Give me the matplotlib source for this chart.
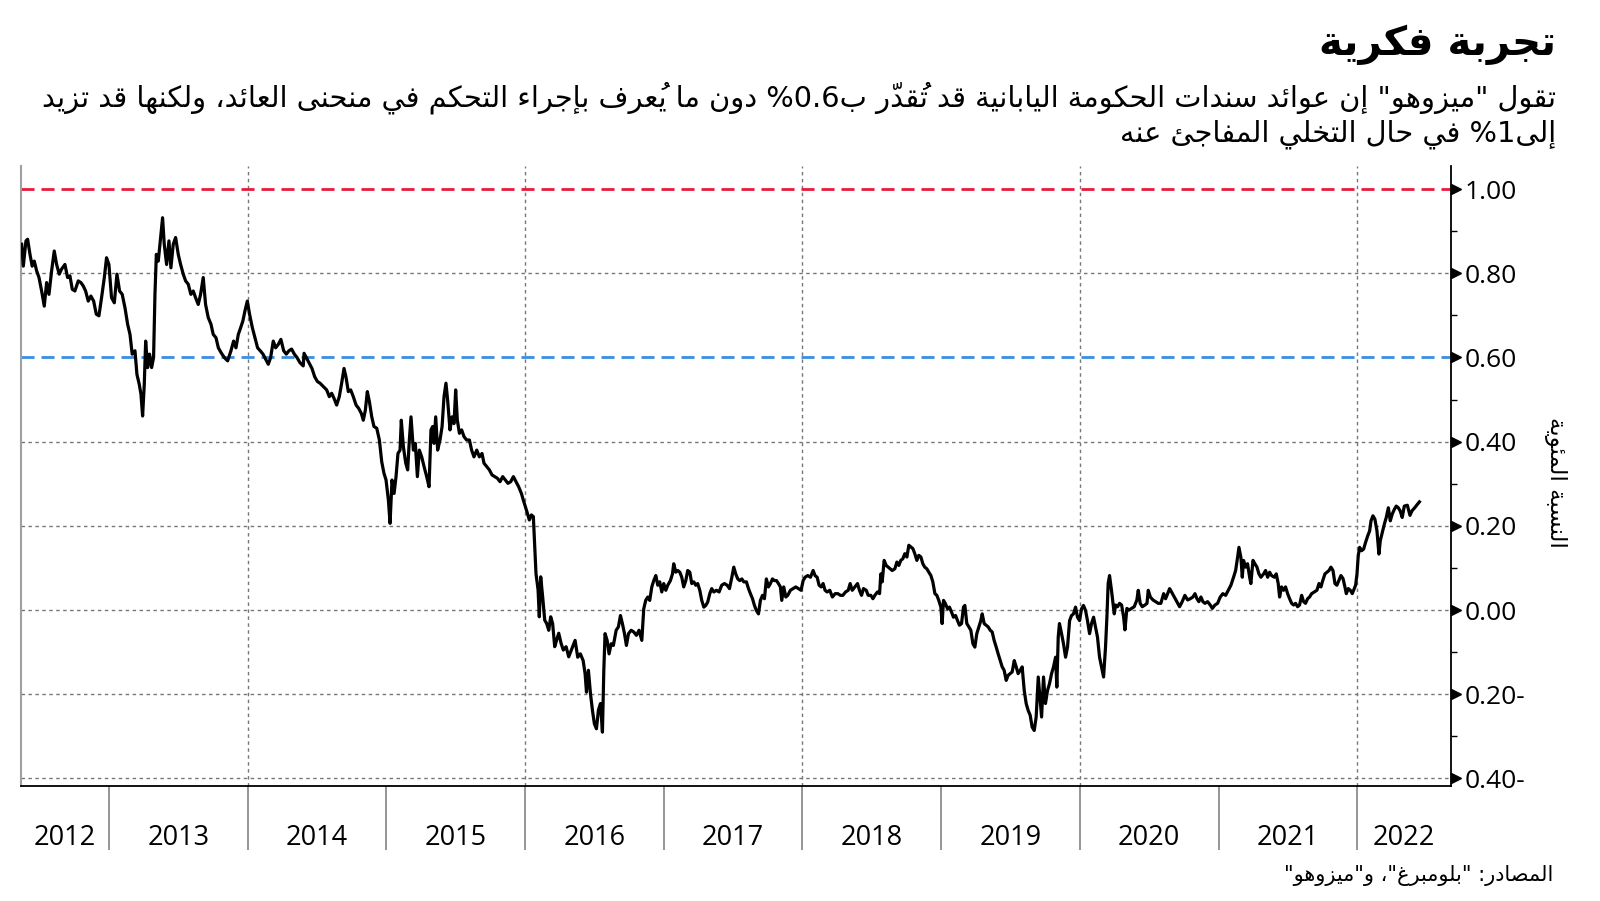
import matplotlib.pyplot as plt
from matplotlib.transforms import offset_copy, blended_transform_factory

# ---------------- data ----------------
years = [
    # 2012 - mid 2014
    2012.371, 2012.383, 2012.402, 2012.414, 2012.431, 2012.447, 2012.462, 2012.479, 2012.496, 2012.515,
    2012.534, 2012.551, 2012.568, 2012.587, 2012.606, 2012.623, 2012.642, 2012.659, 2012.683, 2012.702,
    2012.719, 2012.736, 2012.755, 2012.779, 2012.798, 2012.815, 2012.832, 2012.851, 2012.870, 2012.890,
    2012.909, 2012.928, 2012.947, 2012.967, 2012.983, 2013.000, 2013.019, 2013.039, 2013.058, 2013.077,
    2013.096, 2013.116, 2013.135, 2013.152, 2013.168, 2013.188, 2013.202, 2013.219, 2013.231, 2013.243,
    2013.255, 2013.265, 2013.279, 2013.293, 2013.308, 2013.322, 2013.332, 2013.342, 2013.356, 2013.373,
    2013.387, 2013.399, 2013.416, 2013.433, 2013.447, 2013.464, 2013.481, 2013.500, 2013.517, 2013.536,
    2013.553, 2013.572, 2013.591, 2013.608, 2013.625, 2013.644, 2013.661, 2013.680, 2013.697, 2013.716,
    2013.736, 2013.752, 2013.772, 2013.789, 2013.808, 2013.832, 2013.856, 2013.880, 2013.899, 2013.916,
    2013.933, 2013.950, 2013.966, 2013.981, 2013.998, 2014.014, 2014.034, 2014.053, 2014.072, 2014.091,
    2014.111, 2014.130, 2014.149, 2014.166, 2014.185, 2014.202, 2014.221, 2014.240, 2014.260, 2014.279,
    2014.298, 2014.317, 2014.337, 2014.356, 2014.377, 2014.401,
    # mid 2014 - mid 2016
    2014.407, 2014.426, 2014.445, 2014.464, 2014.484, 2014.503, 2014.522, 2014.546, 2014.570, 2014.589,
    2014.606, 2014.623, 2014.642, 2014.661, 2014.678, 2014.695, 2014.709, 2014.726, 2014.743, 2014.762,
    2014.782, 2014.801, 2014.820, 2014.834, 2014.849, 2014.863, 2014.878, 2014.895, 2014.911, 2014.931,
    2014.950, 2014.967, 2014.983, 2014.998, 2015.015, 2015.027, 2015.041, 2015.056, 2015.070, 2015.084,
    2015.099, 2015.108, 2015.123, 2015.140, 2015.154, 2015.166, 2015.178, 2015.195, 2015.209, 2015.224,
    2015.238, 2015.255, 2015.272, 2015.291, 2015.308, 2015.322, 2015.334, 2015.344, 2015.356, 2015.370,
    2015.387, 2015.402, 2015.416, 2015.430, 2015.442, 2015.459, 2015.474, 2015.488, 2015.500, 2015.512,
    2015.527, 2015.543, 2015.560, 2015.579, 2015.599, 2015.615, 2015.632, 2015.652, 2015.671, 2015.690,
    2015.704, 2015.724, 2015.743, 2015.762, 2015.781, 2015.801, 2015.820, 2015.839, 2015.858, 2015.877,
    2015.897, 2015.916, 2015.935, 2015.954, 2015.974, 2015.988, 2016.002, 2016.017, 2016.031, 2016.046,
    2016.060, 2016.070, 2016.079, 2016.094, 2016.103, 2016.113, 2016.127, 2016.142, 2016.156, 2016.171,
    2016.185, 2016.199, 2016.214, 2016.228, 2016.243, 2016.260, 2016.276, 2016.296, 2016.315, 2016.334,
    # mid 2016 - early 2018
    2016.342, 2016.361, 2016.380, 2016.399, 2016.419, 2016.433, 2016.443, 2016.457, 2016.472, 2016.486,
    2016.500, 2016.515, 2016.529, 2016.544, 2016.558, 2016.568, 2016.577, 2016.592, 2016.606, 2016.621,
    2016.637, 2016.657, 2016.673, 2016.688, 2016.702, 2016.717, 2016.731, 2016.746, 2016.765, 2016.784,
    2016.803, 2016.822, 2016.842, 2016.856, 2016.870, 2016.885, 2016.899, 2016.914, 2016.928, 2016.943,
    2016.957, 2016.971, 2016.986, 2017.000, 2017.015, 2017.029, 2017.048, 2017.063, 2017.072, 2017.087,
    2017.101, 2017.116, 2017.130, 2017.144, 2017.159, 2017.173, 2017.188, 2017.202, 2017.217, 2017.231,
    2017.245, 2017.260, 2017.274, 2017.289, 2017.303, 2017.317, 2017.332, 2017.346, 2017.361, 2017.380,
    2017.399, 2017.418, 2017.438, 2017.457, 2017.474, 2017.491, 2017.505, 2017.519, 2017.534, 2017.548,
    2017.563, 2017.577, 2017.596, 2017.611, 2017.625, 2017.640, 2017.654, 2017.668, 2017.683, 2017.697,
    2017.712, 2017.726, 2017.740, 2017.755, 2017.769, 2017.784, 2017.798, 2017.813, 2017.827, 2017.841,
    2017.851, 2017.865, 2017.880, 2017.894, 2017.913, 2017.933, 2017.952, 2017.971, 2017.990, 2018.005,
    2018.019, 2018.038, 2018.058, 2018.077, 2018.091, 2018.106, 2018.120, 2018.135, 2018.149, 2018.163,
    2018.178, 2018.197, 2018.216, 2018.236, 2018.255, 2018.274,
    # 2018 - early 2020
    2018.291, 2018.311, 2018.330, 2018.344, 2018.359, 2018.378, 2018.397, 2018.411, 2018.426, 2018.440,
    2018.460, 2018.474, 2018.493, 2018.508, 2018.522, 2018.541, 2018.556, 2018.565, 2018.575, 2018.589,
    2018.604, 2018.618, 2018.633, 2018.647, 2018.666, 2018.681, 2018.695, 2018.709, 2018.724, 2018.738,
    2018.753, 2018.767, 2018.782, 2018.796, 2018.810, 2018.825, 2018.839, 2018.854, 2018.868, 2018.882,
    2018.897, 2018.911, 2018.926, 2018.940, 2018.955, 2018.969, 2018.983, 2018.998, 2019.007, 2019.017,
    2019.031, 2019.046, 2019.060, 2019.075, 2019.089, 2019.104, 2019.118, 2019.132, 2019.147, 2019.161,
    2019.171, 2019.185, 2019.200, 2019.214, 2019.229, 2019.243, 2019.257, 2019.272, 2019.286, 2019.296,
    2019.310, 2019.325, 2019.339, 2019.354, 2019.368, 2019.382, 2019.397, 2019.411, 2019.426, 2019.440,
    2019.454, 2019.469, 2019.483, 2019.498, 2019.512, 2019.527, 2019.541, 2019.555, 2019.570, 2019.584,
    2019.599, 2019.613, 2019.627, 2019.642, 2019.656, 2019.671, 2019.685, 2019.700, 2019.714, 2019.724,
    2019.738, 2019.752, 2019.767, 2019.781, 2019.796, 2019.810, 2019.825, 2019.834, 2019.844, 2019.853,
    2019.868, 2019.882, 2019.897, 2019.911, 2019.926, 2019.940, 2019.954, 2019.969, 2019.983, 2019.998,
    2020.012, 2020.026, 2020.041, 2020.055, 2020.070, 2020.084, 2020.099, 2020.113, 2020.127, 2020.142,
    2020.156, 2020.171, 2020.185, 2020.195, 2020.204, 2020.214, 2020.228, 2020.248,
    # 2020 - 2022
    2020.258, 2020.272, 2020.286, 2020.301, 2020.315, 2020.325, 2020.339, 2020.354, 2020.373, 2020.392,
    2020.411, 2020.421, 2020.435, 2020.450, 2020.469, 2020.484, 2020.493, 2020.508, 2020.527, 2020.546,
    2020.565, 2020.584, 2020.604, 2020.618, 2020.633, 2020.647, 2020.661, 2020.681, 2020.700, 2020.719,
    2020.738, 2020.757, 2020.777, 2020.796, 2020.815, 2020.830, 2020.844, 2020.858, 2020.873, 2020.887,
    2020.902, 2020.921, 2020.940, 2020.955, 2020.974, 2020.993, 2021.012, 2021.031, 2021.051, 2021.070,
    2021.089, 2021.108, 2021.123, 2021.137, 2021.147, 2021.161, 2021.171, 2021.180, 2021.195, 2021.209,
    2021.224, 2021.233, 2021.248, 2021.262, 2021.277, 2021.291, 2021.305, 2021.325, 2021.339, 2021.354,
    2021.368, 2021.382, 2021.402, 2021.416, 2021.430, 2021.440, 2021.454, 2021.469, 2021.483, 2021.498,
    2021.512, 2021.527, 2021.541, 2021.555, 2021.570, 2021.584, 2021.599, 2021.613, 2021.627, 2021.642,
    2021.656, 2021.671, 2021.690, 2021.709, 2021.724, 2021.738, 2021.752, 2021.767, 2021.781, 2021.796,
    2021.810, 2021.825, 2021.839, 2021.853, 2021.868, 2021.882, 2021.897, 2021.911, 2021.921, 2021.935,
    2021.950, 2021.964, 2021.978, 2021.988, 2021.998, 2022.007, 2022.017, 2022.031, 2022.046, 2022.060,
    2022.075, 2022.089, 2022.099, 2022.113, 2022.127, 2022.142, 2022.156, 2022.166, 2022.180, 2022.195,
    2022.209, 2022.224, 2022.238, 2022.252, 2022.267, 2022.281, 2022.296, 2022.310, 2022.324, 2022.339,
    2022.361, 2022.380, 2022.395, 2022.414, 2022.428, 2022.448,
]

yields = [
    0.869, 0.817, 0.877, 0.881, 0.845, 0.817, 0.829, 0.806, 0.790, 0.758,
    0.722, 0.778, 0.750, 0.806, 0.853, 0.821, 0.798, 0.810, 0.821, 0.790,
    0.794, 0.762, 0.758, 0.782, 0.778, 0.770, 0.758, 0.734, 0.746, 0.734,
    0.703, 0.699, 0.742, 0.790, 0.837, 0.821, 0.742, 0.730, 0.798, 0.758,
    0.750, 0.718, 0.679, 0.655, 0.608, 0.616, 0.560, 0.536, 0.513, 0.461,
    0.536, 0.639, 0.576, 0.608, 0.576, 0.600, 0.750, 0.845, 0.829, 0.885,
    0.932, 0.869, 0.821, 0.877, 0.813, 0.869, 0.885, 0.845, 0.821, 0.798,
    0.782, 0.774, 0.750, 0.758, 0.742, 0.726, 0.750, 0.790, 0.726, 0.695,
    0.679, 0.655, 0.647, 0.623, 0.612, 0.600, 0.592, 0.616, 0.639, 0.623,
    0.655, 0.671, 0.687, 0.711, 0.734, 0.703, 0.671, 0.647, 0.623, 0.616,
    0.608, 0.596, 0.584, 0.600, 0.639, 0.623, 0.631, 0.643, 0.616, 0.608,
    0.616, 0.620, 0.608, 0.600, 0.588, 0.580,
    0.610, 0.598, 0.586, 0.574, 0.554, 0.543, 0.539, 0.531, 0.523, 0.507,
    0.515, 0.503, 0.487, 0.507, 0.539, 0.574, 0.554, 0.519, 0.523, 0.507,
    0.487, 0.479, 0.467, 0.451, 0.475, 0.519, 0.495, 0.459, 0.436, 0.432,
    0.404, 0.352, 0.325, 0.309, 0.261, 0.206, 0.309, 0.277, 0.317, 0.372,
    0.380, 0.451, 0.388, 0.349, 0.333, 0.404, 0.459, 0.380, 0.396, 0.317,
    0.380, 0.364, 0.341, 0.317, 0.293, 0.428, 0.436, 0.396, 0.459, 0.380,
    0.404, 0.436, 0.507, 0.539, 0.499, 0.428, 0.459, 0.443, 0.523, 0.451,
    0.420, 0.428, 0.412, 0.404, 0.404, 0.380, 0.364, 0.380, 0.364, 0.372,
    0.349, 0.341, 0.333, 0.321, 0.317, 0.313, 0.305, 0.317, 0.309, 0.301,
    0.305, 0.317, 0.305, 0.293, 0.277, 0.261, 0.246, 0.230, 0.214, 0.226,
    0.222, 0.151, 0.087, 0.048, -0.016, 0.079, 0.032, -0.024, -0.032, -0.048,
    -0.016, -0.032, -0.087, -0.071, -0.055, -0.079, -0.095, -0.087, -0.111, -0.095,
    -0.088, -0.072, -0.112, -0.104, -0.120, -0.151, -0.195, -0.143, -0.199, -0.238,
    -0.270, -0.282, -0.238, -0.222, -0.290, -0.143, -0.056, -0.072, -0.104, -0.080,
    -0.084, -0.048, -0.040, -0.013, -0.032, -0.056, -0.084, -0.056, -0.048, -0.052,
    -0.060, -0.048, -0.072, 0.003, 0.023, 0.031, 0.023, 0.055, 0.070, 0.082,
    0.059, 0.067, 0.043, 0.063, 0.047, 0.059, 0.070, 0.086, 0.110, 0.090,
    0.094, 0.090, 0.078, 0.055, 0.070, 0.094, 0.090, 0.063, 0.067, 0.059,
    0.063, 0.047, 0.023, 0.007, 0.011, 0.019, 0.039, 0.051, 0.043, 0.047,
    0.043, 0.059, 0.063, 0.059, 0.051, 0.078, 0.102, 0.086, 0.074, 0.070,
    0.074, 0.067, 0.067, 0.051, 0.039, 0.027, 0.011, -0.001, -0.009, 0.023,
    0.035, 0.027, 0.074, 0.055, 0.063, 0.074, 0.070, 0.070, 0.063, 0.055,
    0.023, 0.055, 0.031, 0.035, 0.047, 0.051, 0.055, 0.051, 0.047, 0.070,
    0.078, 0.082, 0.078, 0.094, 0.082, 0.078, 0.059, 0.055, 0.063, 0.047,
    0.043, 0.047, 0.031, 0.039, 0.039, 0.035,
    0.035, 0.043, 0.047, 0.063, 0.047, 0.055, 0.063, 0.047, 0.035, 0.051,
    0.047, 0.035, 0.035, 0.027, 0.035, 0.043, 0.039, 0.086, 0.067, 0.118,
    0.106, 0.102, 0.098, 0.094, 0.098, 0.114, 0.106, 0.118, 0.122, 0.134,
    0.126, 0.154, 0.150, 0.146, 0.134, 0.118, 0.130, 0.126, 0.110, 0.102,
    0.098, 0.090, 0.082, 0.067, 0.039, 0.035, 0.023, 0.007, -0.032, 0.023,
    0.015, 0.003, 0.007, -0.005, -0.017, -0.013, -0.025, -0.036, -0.032, 0.007,
    0.011, -0.032, -0.040, -0.048, -0.080, -0.088, -0.056, -0.040, -0.025, -0.009,
    -0.032, -0.036, -0.040, -0.048, -0.052, -0.072, -0.088, -0.104, -0.120, -0.135,
    -0.143, -0.167, -0.155, -0.151, -0.147, -0.120, -0.135, -0.151, -0.143, -0.135,
    -0.191, -0.222, -0.238, -0.250, -0.278, -0.286, -0.254, -0.159, -0.215, -0.254,
    -0.159, -0.222, -0.191, -0.175, -0.151, -0.135, -0.112, -0.183, -0.064, -0.032,
    -0.056, -0.080, -0.112, -0.088, -0.025, -0.013, -0.009, 0.007, -0.017, -0.025,
    0.003, 0.011, -0.001, -0.025, -0.056, -0.032, -0.017, -0.040, -0.064, -0.112,
    -0.135, -0.159, -0.088, -0.017, 0.063, 0.082, 0.047, -0.009,
    0.012, 0.008, 0.016, 0.012, -0.016, -0.047, 0.004, 0.000, 0.004, 0.008,
    0.024, 0.047, 0.016, 0.008, 0.012, 0.016, 0.047, 0.031, 0.024, 0.020,
    0.016, 0.016, 0.039, 0.027, 0.039, 0.051, 0.043, 0.031, 0.020, 0.008,
    0.020, 0.035, 0.024, 0.027, 0.031, 0.039, 0.027, 0.020, 0.031, 0.020,
    0.016, 0.020, 0.012, 0.004, 0.012, 0.016, 0.031, 0.039, 0.035, 0.047,
    0.059, 0.078, 0.094, 0.125, 0.149, 0.125, 0.078, 0.118, 0.102, 0.110,
    0.078, 0.063, 0.118, 0.110, 0.102, 0.086, 0.078, 0.086, 0.094, 0.078,
    0.090, 0.082, 0.078, 0.086, 0.063, 0.031, 0.055, 0.047, 0.055, 0.039,
    0.027, 0.016, 0.012, 0.016, 0.008, 0.012, 0.035, 0.020, 0.016, 0.027,
    0.031, 0.039, 0.043, 0.047, 0.063, 0.055, 0.071, 0.086, 0.090, 0.094,
    0.102, 0.094, 0.063, 0.059, 0.071, 0.082, 0.075, 0.055, 0.039, 0.051,
    0.047, 0.039, 0.051, 0.059, 0.086, 0.129, 0.149, 0.141, 0.145, 0.161,
    0.176, 0.188, 0.212, 0.224, 0.216, 0.188, 0.133, 0.165, 0.184, 0.204,
    0.220, 0.243, 0.212, 0.228, 0.239, 0.247, 0.243, 0.235, 0.220, 0.247,
    0.249, 0.225, 0.236, 0.243, 0.249, 0.257,
]

year_labels = list(range(2012, 2023))
y_ticks = [-0.4, -0.2, 0.0, 0.2, 0.4, 0.6, 0.8, 1.0]
upper_level = 1.0   # red dashed
lower_level = 0.6   # blue dashed

title = "تجربة فكرية"
subtitle = [
    'تقول "ميزوهو" إن عوائد سندات الحكومة اليابانية قد تُقدّر ب0.6% دون ما يُعرف بإجراء التحكم في منحنى العائد، ولكنها قد تزيد',
    "إلى1% في حال التخلي المفاجئ عنه",
]
y_label = "النسبة المئوية"
source = 'المصادر: "بلومبرغ"، و"ميزوهو"'

# ---------------- simple arabic shaping (matplotlib has no RTL layout) ----------------
FORMS = {
    'ء': (0xFE80, 1), 'آ': (0xFE81, 2), 'أ': (0xFE83, 2), 'ؤ': (0xFE85, 2), 'إ': (0xFE87, 2),
    'ئ': (0xFE89, 4), 'ا': (0xFE8D, 2), 'ب': (0xFE8F, 4), 'ة': (0xFE93, 2), 'ت': (0xFE95, 4),
    'ث': (0xFE99, 4), 'ج': (0xFE9D, 4), 'ح': (0xFEA1, 4), 'خ': (0xFEA5, 4), 'د': (0xFEA9, 2),
    'ذ': (0xFEAB, 2), 'ر': (0xFEAD, 2), 'ز': (0xFEAF, 2), 'س': (0xFEB1, 4), 'ش': (0xFEB5, 4),
    'ص': (0xFEB9, 4), 'ض': (0xFEBD, 4), 'ط': (0xFEC1, 4), 'ظ': (0xFEC5, 4), 'ع': (0xFEC9, 4),
    'غ': (0xFECD, 4), 'ف': (0xFED1, 4), 'ق': (0xFED5, 4), 'ك': (0xFED9, 4), 'ل': (0xFEDD, 4),
    'م': (0xFEE1, 4), 'ن': (0xFEE5, 4), 'ه': (0xFEE9, 4), 'و': (0xFEED, 2), 'ى': (0xFEEF, 2),
    'ي': (0xFEF1, 4),
}
LAM_ALEF = {'ا': 0xFEFB, 'أ': 0xFEF7, 'إ': 0xFEF9, 'آ': 0xFEF5}
HARAKAT = set('\u064b\u064c\u064d\u064e\u064f\u0650\u0651\u0652')
LTR = set('0123456789.')


def shape(s):
    n = len(s)

    def neighbour(i, step):
        j = i + step
        while 0 <= j < n and s[j] in HARAKAT:
            j += step
        return s[j] if 0 <= j < n else None

    out = []
    i = 0
    while i < n:
        c = s[i]
        if c not in FORMS:
            out.append(c)
            i += 1
            continue
        prev = neighbour(i, -1)
        joins_prev = prev in FORMS and FORMS[prev][1] == 4
        if c == 'ل' and i + 1 < n and s[i + 1] in LAM_ALEF:
            out.append(chr(LAM_ALEF[s[i + 1]] + (1 if joins_prev else 0)))
            i += 2
            continue
        nxt = neighbour(i, 1)
        base, nf = FORMS[c]
        joins_next = nf == 4 and nxt in FORMS
        if nf == 1:
            form = base
        elif joins_prev and joins_next:
            form = base + 3
        elif joins_prev:
            form = base + 1
        elif joins_next:
            form = base + 2
        else:
            form = base
        out.append(chr(form))
        i += 1
    return ''.join(out)


def ar(s):
    # shape, then put the runs in visual (left to right) order; numbers stay LTR
    s = shape(s)
    runs = []
    for ch in s:
        is_ltr = ch in LTR
        if runs and runs[-1][0] == is_ltr:
            runs[-1][1].append(ch)
        else:
            runs.append((is_ltr, [ch]))
    out = []
    for is_ltr, chars in reversed(runs):
        out.extend(chars if is_ltr else reversed(chars))
    return ''.join(out)


# ---------------- figure ----------------
AR_FONT = ['DejaVu Sans']
NUM_FONT = ['Open Sans', 'DejaVu Sans']

fig = plt.figure(figsize=(16, 9.01), dpi=100)
ax = fig.add_axes([0.0131, 0.1276, 0.8938, 0.6882])

x0, x1 = 2012.366, 2022.676
ax.set_xlim(x0, x1)
ax.set_ylim(-0.418, 1.055)

# grid (dotted), not under the two reference levels
for v in y_ticks:
    if v not in (upper_level, lower_level):
        ax.axhline(v, color='#777777', lw=1.0, ls=(0, (2.5, 2.5)), zorder=1)
for yr in year_labels:
    if yr % 2 == 0 and yr > 2012:
        ax.axvline(yr, color='#777777', lw=1.0, ls=(0, (2.5, 2.5)), zorder=1)

ax.axhline(upper_level, color='#e8193c', lw=2.0, ls=(0, (4.7, 2.5)), zorder=2)
ax.axhline(lower_level, color='#3b8ee2', lw=2.0, ls=(0, (4.7, 2.5)), zorder=2)

ax.plot(years, yields, color='black', lw=2.3, zorder=3)

# spines
ax.spines['top'].set_visible(False)
ax.spines['left'].set_color('#a0a0a0')
ax.spines['left'].set_linewidth(1.5)
ax.spines['right'].set_color('black')
ax.spines['right'].set_linewidth(1.3)
ax.spines['bottom'].set_color('black')
ax.spines['bottom'].set_linewidth(1.3)

# y axis on the right
ax.yaxis.tick_right()
ax.set_yticks(y_ticks)
ax.set_yticklabels([f"{abs(v):.2f}-" if v < 0 else f"{v:.2f}" for v in y_ticks],
                   fontfamily=NUM_FONT, fontsize=19)
ax.set_yticks([v + 0.1 for v in y_ticks[:-1]], minor=True)
ax.tick_params(axis='y', which='major', length=0, pad=10)
ax.tick_params(axis='y', which='minor', length=4, width=1.0, color='black', direction='out')
tri = offset_copy(ax.get_yaxis_transform(), fig=fig, x=3.3, units='points')
ax.plot([1.0] * len(y_ticks), y_ticks, ls='none', marker='>', ms=7, color='black',
        transform=tri, clip_on=False, zorder=5)

# x axis: year boundaries as long ticks, labels centred in each year
ax.set_xticks(year_labels[1:])
ax.set_xticklabels([])
ax.tick_params(axis='x', which='major', length=46, width=1.3, color='#8c8c8c', direction='out')
lab_tr = blended_transform_factory(ax.transData, ax.transAxes)
for yr in year_labels:
    mid = (max(yr, x0) + min(yr + 1, x1)) / 2
    ax.text(mid, -0.084, str(yr), transform=lab_tr, ha='center', va='center',
            fontsize=19.5, fontfamily=NUM_FONT)

# texts
fig.text(1556 / 1600, 1 - 45 / 901, ar(title), ha='right', va='center',
         fontsize=29, fontweight='bold', fontfamily=AR_FONT)
fig.text(1556 / 1600, 1 - 98 / 901, ar(subtitle[0]), ha='right', va='center',
         fontsize=20.8, fontfamily=AR_FONT)
fig.text(1556 / 1600, 1 - 134 / 901, ar(subtitle[1]), ha='right', va='center',
         fontsize=20.8, fontfamily=AR_FONT)
fig.text(1555 / 1600, 1 - 482 / 901, ar(y_label), ha='center', va='center',
         rotation=270, fontsize=16.5, fontfamily=AR_FONT)
fig.text(1553 / 1600, 1 - 875 / 901, ar(source), ha='right', va='center',
         fontsize=15, fontfamily=AR_FONT)

fig.savefig('out.png', dpi=100)
